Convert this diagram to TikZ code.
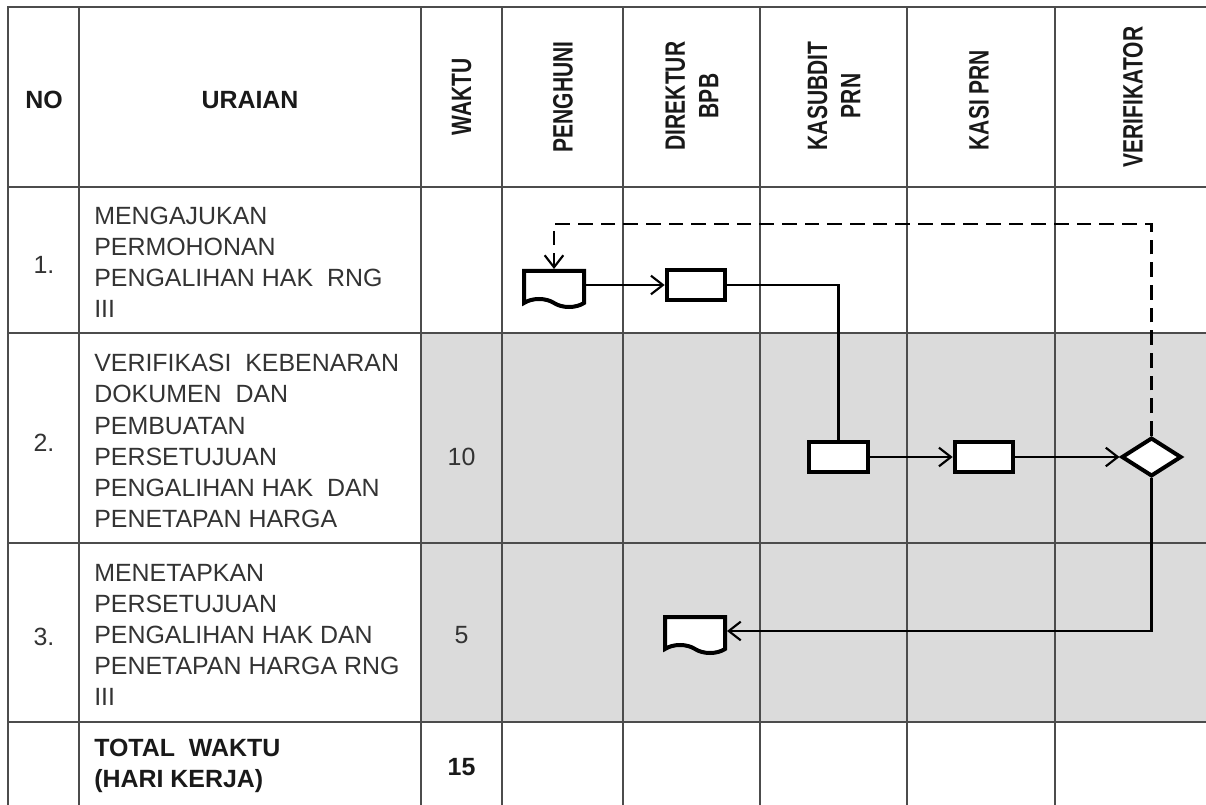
\documentclass[tikz,border=0pt]{standalone}
\usepackage{fontspec}
\setmainfont{Liberation Sans}
\newfontfamily\narrowfont[FakeStretch=0.75]{Liberation Sans}
\usetikzlibrary{shapes.geometric, shapes.symbols, arrows.meta, positioning, calc}
\tikzset{
    rule/.style={line width=1.1pt, draw=black!70},
    dotfill/.style={fill=black!14},
    hdr/.style={font=\fontsize{18.7}{23}\selectfont\bfseries, text=black!90},
    vhdr/.style={
        rotate=90, align=center, text=black!90,
        font=\narrowfont\fontsize{21}{25}\selectfont\bfseries
    },
    cell/.style={
        anchor=west, align=left, inner sep=0pt,
        font=\fontsize{18.7}{23.3}\selectfont, text=black!80
    },
    nolabel/.style={inner sep=0pt, font=\fontsize{18.7}{23.3}\selectfont, text=black!80},
    procbox/.style={
        rectangle, draw=black, fill=white, line width=3pt,
        minimum width=44pt, minimum height=22pt, inner sep=0pt
    },
    docbox/.style={
        tape, tape bend top=none, tape bend bottom=out and in,
        tape bend height=6pt, draw=black, fill=white, line width=3pt,
        minimum width=45pt, minimum height=27pt, inner sep=0pt
    },
    decision/.style={
        diamond, draw=black, fill=white, line width=3pt,
        minimum width=45pt, minimum height=29pt, inner sep=0pt
    },
    link/.style={line width=1.6pt, draw=black},
    arrow/.style={link, -{Straight Barb[length=9pt, width=14pt, line width=1.6pt]}},
    retline/.style={arrow, line width=2.2pt, dash pattern=on 11pt off 6pt}
}
\begin{document}
\begin{tikzpicture}[x=0.75pt, y=-0.75pt]
    \useasboundingbox (0,0) rectangle (1206,805);

    % shaded rows
    \fill[dotfill] (421,333) rectangle (1206,722);

    % table rules
    \draw[rule] (8,805) -- (8,7) -- (1206,7);
    \foreach \x in {79,421,502,623,760,907,1055}
        \draw[rule] (\x,7) -- (\x,805);
    \foreach \y in {187,333,543,722}
        \draw[rule] (8,\y) -- (1206,\y);

    % header
    \node[hdr] (no) at (44,100) {NO};
    \node[hdr] (uraian) at (250,100) {URAIAN};
    \node[vhdr] (waktu) at (461.5,97) {WAKTU};
    \node[vhdr] (penghuni) at (563,97) {PENGHUNI};
    \node[vhdr] (direktur) at (692,96) {DIREKTUR\\BPB};
    \node[vhdr] (kasubdit) at (834,96) {KASUBDIT\\PRN};
    \node[vhdr] (kasi) at (979,100) {KASI PRN};
    \node[vhdr] (verif) at (1133,97) {VERIFIKATOR};

    % rows
    \node[nolabel] (n1) at (44,265) {1.};
    \node[cell] (u1) at (94,262) {MENGAJUKAN\\PERMOHONAN\\PENGALIHAN HAK\ \ RNG\\III};
    \node[nolabel] (n2) at (44,443) {2.};
    \node[cell] (u2) at (94,441) {VERIFIKASI\ \ KEBENARAN\\DOKUMEN\ \ DAN\\PEMBUATAN\\PERSETUJUAN\\PENGALIHAN HAK\ \ DAN\\PENETAPAN HARGA};
    \node[nolabel] (w2) at (461.5,457) {10};
    \node[nolabel] (n3) at (44,637) {3.};
    \node[cell] (u3) at (94,635) {MENETAPKAN\\PERSETUJUAN\\PENGALIHAN HAK DAN\\PENETAPAN HARGA RNG\\III};
    \node[nolabel] (w3) at (461.5,635) {5};
    \node[cell, font=\fontsize{18.7}{23.3}\selectfont\bfseries, text=black!90] (tot) at (94,766) {TOTAL\ \ WAKTU\\(HARI KERJA)};
    \node[nolabel, font=\fontsize{18.7}{23.3}\selectfont\bfseries, text=black!90] (w4) at (461.5,767) {15};

    % flow symbols
    \node[docbox] (doc1) at (554,285) {};
    \node[procbox] (dirbox) at (696,285) {};
    \node[procbox] (kbox) at (838.5,457) {};
    \node[procbox] (kasibox) at (984,457) {};
    \node[decision] (verdia) at (1151.5,457) {};
    \node[docbox] (doc2) at (695,631) {};
    \coordinate (ret) at (1151.5,224);

    % connectors
    \draw[arrow] (doc1.east) -- (dirbox.west);
    \draw[link] (dirbox.east) -| (kbox.north);
    \draw[arrow] (kbox.east) -- (kasibox.west);
    \draw[arrow] (kasibox.east) -- (verdia.west);
    \draw[arrow] (verdia.south) |- (doc2.east);
    \draw[retline] (verdia.north) -- (ret) -| (doc1.north);

\end{tikzpicture}
\end{document}
